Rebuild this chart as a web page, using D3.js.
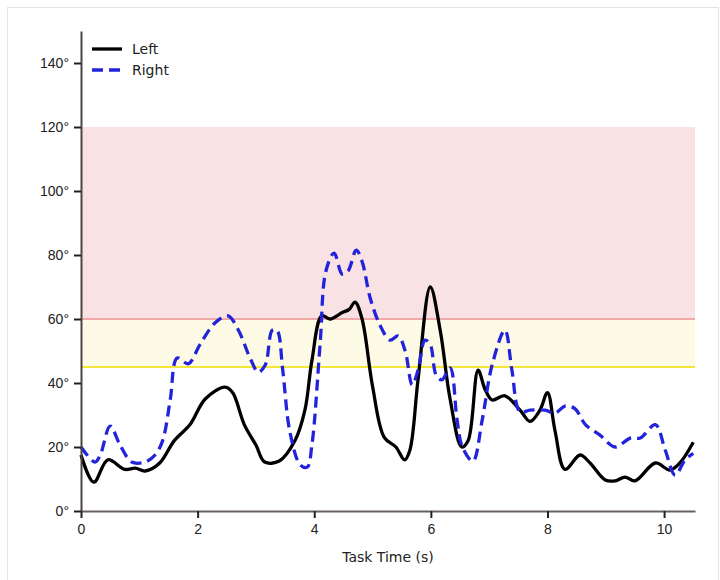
<!DOCTYPE html>
<html>
<head>
<meta charset="utf-8">
<script src="https://cdn.jsdelivr.net/npm/d3@7"></script>
<style>
  body { margin: 0; background: #fff; }
  svg { font-family: "DejaVu Sans", sans-serif; }
</style>
</head>
<body>
<svg id="chart"></svg>
<script>
// Left / right joint angle over task time
const leftT = [0, 0.22, 0.46, 0.75, 0.93, 1.1, 1.35, 1.6, 1.87, 2.13, 2.47, 2.6, 2.8, 3, 3.15, 3.4, 3.67, 3.84, 3.96, 4.13, 4.27, 4.48, 4.6, 4.7, 4.82, 5, 5.2, 5.4, 5.55, 5.64, 5.78, 5.99, 6.16, 6.33, 6.53, 6.64, 6.81, 6.93, 7.05, 7.27, 7.53, 7.7, 7.87, 8, 8.13, 8.3, 8.56, 8.73, 8.99, 9.16, 9.33, 9.5, 9.85, 10.1, 10.27, 10.5];
const leftV = [17.5, 9, 16, 13, 13.4, 12.5, 15, 22, 27, 35, 38.7, 37, 27, 20.6, 15.3, 15.6, 22, 31.5, 47, 61, 60, 62, 63, 65.3, 60, 39, 23, 20, 16, 19, 41, 70, 56.5, 35, 20, 22, 44, 38, 34.7, 36, 31.5, 28, 31.5, 37, 25, 13, 17.5, 15, 9.7, 9.4, 10.6, 9.4, 15, 12.8, 15, 21.5];

const rightT = [0, 0.24, 0.33, 0.5, 0.67, 0.87, 1.1, 1.27, 1.4, 1.53, 1.65, 1.84, 2.04, 2.3, 2.52, 2.7, 2.9, 3.04, 3.16, 3.28, 3.36, 3.46, 3.58, 3.76, 3.88, 3.96, 4.1, 4.2, 4.34, 4.48, 4.58, 4.72, 4.82, 4.96, 5.13, 5.3, 5.44, 5.56, 5.68, 5.78, 5.9, 5.99, 6.09, 6.19, 6.33, 6.45, 6.54, 6.72, 6.88, 7.05, 7.27, 7.39, 7.53, 7.7, 7.96, 8.13, 8.3, 8.47, 8.65, 8.9, 9.16, 9.42, 9.59, 9.85, 10.02, 10.19, 10.36, 10.5];
const rightV = [20, 15.3, 17.5, 26.5, 20.6, 15.3, 15.3, 17.5, 22, 34.7, 47.8, 46, 52, 58.8, 61, 56.5, 47.8, 43.4, 45.6, 56.5, 56.5, 44, 25, 14.4, 13.7, 20.6, 52, 75, 80.6, 74, 75, 81.5, 78, 66.5, 58, 53.4, 54.7, 50, 39.4, 44, 53.4, 52, 42.5, 41, 44.7, 28.4, 20, 15.6, 28.4, 45.6, 56.5, 44, 31, 31.5, 31.5, 30.6, 32.8, 32, 27, 23.7, 20, 22.8, 22.8, 27, 19, 11.2, 16, 18];

const xTicks = [0, 2, 4, 6, 8, 10];
const yTicks = [0, 20, 40, 60, 80, 100, 120, 140];
const zones = [
  { lo: 60, hi: 120, fill: "#f8e2e4", edge: "#f0a8a8" },
  { lo: 45, hi: 60, fill: "#fdfbe6", edge: "#f5e63a" }
];
const series = [
  { name: "Left", t: leftT, v: leftV, color: "#000000", dash: null },
  { name: "Right", t: rightT, v: rightV, color: "#2323dc", dash: "11,6" }
];

const width = 720, height = 580;
const marginLeft = 81, marginRight = 25, marginTop = 31, marginBottom = 69;

const svg = d3.select("#chart")
  .attr("width", width)
  .attr("height", height);

// figure frame
svg.append("rect")
  .attr("x", 7.5).attr("y", 7.5)
  .attr("width", 711).attr("height", 590)
  .attr("fill", "none")
  .attr("stroke", "#e4e4e4");

const x = d3.scaleLinear().domain([0, 10.53]).range([marginLeft, width - marginRight]);
const y = d3.scaleLinear().domain([0, 150]).range([height - marginBottom, marginTop]);

// zones
zones.forEach(z => {
  svg.append("rect")
    .attr("x", x(0)).attr("y", y(z.hi))
    .attr("width", x(10.53) - x(0)).attr("height", y(z.lo) - y(z.hi))
    .attr("fill", z.fill);
});
zones.forEach(z => {
  svg.append("line")
    .attr("x1", x(0)).attr("x2", x(10.53))
    .attr("y1", y(z.lo)).attr("y2", y(z.lo))
    .attr("stroke", z.edge).attr("stroke-width", 2);
});

// lines
const line = d3.line()
  .x(d => x(d[0]))
  .y(d => y(d[1]))
  .curve(d3.curveCatmullRom.alpha(0.5));

series.forEach(s => {
  svg.append("path")
    .attr("fill", "none")
    .attr("stroke", s.color)
    .attr("stroke-width", 3.3)
    .attr("stroke-dasharray", s.dash)
    .attr("d", line(s.t.map((t, i) => [t, s.v[i]])));
});

// axes
const spine = "#4f4444";
svg.append("g")
  .attr("transform", `translate(0,${height - marginBottom})`)
  .call(d3.axisBottom(x).tickValues(xTicks).tickFormat(d3.format("d")).tickSize(7).tickPadding(6).tickSizeOuter(0))
  .call(g => g.select(".domain").attr("stroke", "#6a6262").attr("stroke-width", 2))
  .call(g => g.selectAll(".tick line").attr("stroke", "#222").attr("stroke-width", 2))
  .call(g => g.selectAll(".tick text").attr("font-size", 14).attr("fill", "#222"));

svg.append("g")
  .attr("transform", `translate(${marginLeft},0)`)
  .call(d3.axisLeft(y).tickValues(yTicks).tickFormat(d => d + "°").tickSize(7).tickPadding(5).tickSizeOuter(0))
  .call(g => g.select(".domain").attr("stroke", spine).attr("stroke-width", 2))
  .call(g => g.selectAll(".tick line").attr("stroke", "#222").attr("stroke-width", 2))
  .call(g => g.selectAll(".tick text").attr("font-size", 14).attr("fill", "#222"));

svg.append("text")
  .attr("x", x(0) + (x(10.53) - x(0)) / 2)
  .attr("y", 562)
  .attr("text-anchor", "middle")
  .attr("font-size", 14)
  .attr("fill", "#222")
  .text("Task Time (s)");

// legend
const legend = svg.append("g").attr("transform", "translate(92,49)");
series.forEach((s, i) => {
  legend.append("line")
    .attr("x1", 0).attr("x2", 30)
    .attr("y1", i * 21).attr("y2", i * 21)
    .attr("stroke", s.color)
    .attr("stroke-width", 3.3)
    .attr("stroke-dasharray", s.dash);
  legend.append("text")
    .attr("x", 40).attr("y", i * 21 + 5)
    .attr("font-size", 14)
    .attr("fill", "#222")
    .text(s.name);
});
</script>
</body>
</html>
